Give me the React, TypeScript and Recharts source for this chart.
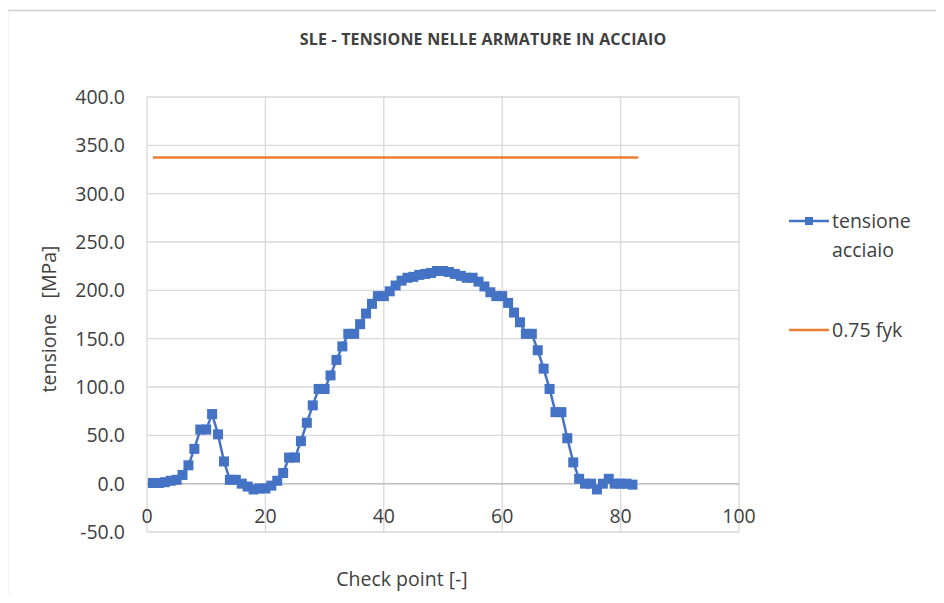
import { CartesianGrid, Line, LineChart, ReferenceLine, XAxis, YAxis } from "recharts";

// check points 1..82
const checkPoints = [
  1, 2, 3, 4, 5, 6, 7, 8, 9, 10, 11, 12, 13, 14, 15, 16, 17, 18, 19, 20, 21, 22, 23, 24, 25, 26, 27, 28, 29, 30,
  31, 32, 33, 34, 35, 36, 37, 38, 39, 40, 41, 42, 43, 44, 45, 46, 47, 48, 49, 50, 51, 52, 53, 54, 55, 56, 57, 58,
  59, 60, 61, 62, 63, 64, 65, 66, 67, 68, 69, 70, 71, 72, 73, 74, 75, 76, 77, 78, 79, 80, 81, 82,
];

// tensione acciaio [MPa]
const tensioneAcciaio = [
  0.7, 0.7, 1.5, 3, 4, 9, 19, 36, 56, 56, 72, 51, 23, 4, 4, 0, -3, -6, -5, -5, -2, 3, 11, 27, 27, 44, 63, 81, 98, 98,
  112, 128, 142, 155, 155, 165, 176, 186, 194, 194, 199, 205, 210, 213, 214, 216, 217, 218, 220, 220, 219, 217, 215,
  213, 213, 209, 204, 198, 194, 194, 187, 177, 167, 155, 155, 138, 119, 98, 74, 74, 47, 22, 5, 0, 0, -6, 0, 5, 0, 0,
  0, -1,
];

// 0.75 fyk limit
const limitX = [1, 83];
const limitValue = 337.5;

const xTicks = [0, 20, 40, 60, 80, 100];
const yTicks = [-50, 0, 50, 100, 150, 200, 250, 300, 350, 400];

const steelData = checkPoints.map((x, i) => ({ x, y: tensioneAcciaio[i] }));
const limitData = limitX.map((x) => ({ x, y: limitValue }));

const FONT = "'Open Sans', sans-serif";
const BLUE = "#4472C4";
const ORANGE = "#ED7D31";
const TXT = "#404040";
const FS = 19.5;

function SquareDot(props: any) {
  const { cx, cy } = props;
  if (cx == null || cy == null) return null;
  return <rect x={cx - 5} y={cy - 5} width={10} height={10} fill={BLUE} />;
}

function XTick(props: any) {
  const { x, y, payload } = props;
  // labels sit next to the zero line, not at the bottom of the plot
  return (
    <text x={x} y={y - 17} textAnchor="middle" dominantBaseline="central" fill={TXT} fontSize={FS} fontFamily={FONT}>
      {payload.value}
    </text>
  );
}

export default function App() {
  return (
    <div style={{ position: "relative", width: 944, height: 603, margin: -8, background: "#fff", overflow: "hidden" }}>
      <svg style={{ position: "absolute", left: 0, top: 0 }} width={944} height={603}>
        <line x1={7.5} x2={7.5} y1={10} y2={603} stroke="#d0d0d0" strokeWidth={1.5} />
        <line x1={7.5} x2={944} y1={10.5} y2={10.5} stroke="#d0d0d0" strokeWidth={1.5} />
      </svg>
      <div
        style={{
          position: "absolute",
          left: 483,
          top: 39,
          transform: "translate(-50%, -50%)",
          whiteSpace: "nowrap",
          fontFamily: FONT,
          fontWeight: 700,
          fontSize: 16,
          letterSpacing: 0.2,
          color: TXT,
        }}
      >
        SLE - TENSIONE NELLE ARMATURE IN ACCIAIO
      </div>
      <div style={{ position: "absolute", left: 0, top: 0 }}>
        <LineChart width={944} height={603} margin={{ top: 97, right: 205, bottom: 0, left: 0 }}>
          <CartesianGrid stroke="#d9d9d9" strokeWidth={1.3} />
          <XAxis
            type="number"
            dataKey="x"
            domain={[0, 100]}
            ticks={xTicks}
            axisLine={false}
            tickLine={false}
            tickSize={0}
            tickMargin={0}
            height={71}
            tick={<XTick />}
            interval={0}
          />
          <YAxis
            type="number"
            dataKey="y"
            domain={[-50, 400]}
            ticks={yTicks}
            width={147}
            axisLine={false}
            tickLine={false}
            tickSize={0}
            tickMargin={22}
            tickFormatter={(v: number) => v.toFixed(1)}
            tick={{ fill: TXT, fontSize: FS, fontFamily: FONT }}
            interval={0}
          />
          <ReferenceLine y={0} stroke="#bfbfbf" strokeWidth={1.5} />
          <Line
            data={limitData}
            dataKey="y"
            stroke={ORANGE}
            strokeWidth={2.5}
            dot={false}
            isAnimationActive={false}
          />
          <Line
            data={steelData}
            dataKey="y"
            stroke={BLUE}
            strokeWidth={2.5}
            dot={<SquareDot />}
            isAnimationActive={false}
          />
        </LineChart>
      </div>
      <div
        style={{
          position: "absolute",
          left: 48,
          top: 319,
          transform: "translate(-50%, -50%) rotate(-90deg)",
          whiteSpace: "pre",
          fontFamily: FONT,
          fontSize: FS,
          color: TXT,
        }}
      >
        {"tensione   [MPa]"}
      </div>
      <div
        style={{
          position: "absolute",
          left: 402,
          top: 578,
          transform: "translate(-50%, -50%)",
          whiteSpace: "nowrap",
          fontFamily: FONT,
          fontSize: FS,
          color: TXT,
        }}
      >
        Check point [-]
      </div>
      <svg style={{ position: "absolute", left: 785, top: 205 }} width={50} height={140}>
        <line x1={4} x2={44} y1={16} y2={16} stroke={BLUE} strokeWidth={2.5} />
        <rect x={20} y={12} width={8} height={8} fill={BLUE} />
        <line x1={4} x2={44} y1={125} y2={125} stroke={ORANGE} strokeWidth={2.5} />
      </svg>
      <div
        style={{
          position: "absolute",
          left: 832,
          top: 206,
          fontFamily: FONT,
          fontSize: FS,
          color: TXT,
          lineHeight: "29px",
        }}
      >
        tensione
        <br />
        acciaio
      </div>
      <div
        style={{
          position: "absolute",
          left: 832,
          top: 315,
          fontFamily: FONT,
          fontSize: FS,
          color: TXT,
          lineHeight: "29px",
        }}
      >
        0.75 fyk
      </div>
    </div>
  );
}
